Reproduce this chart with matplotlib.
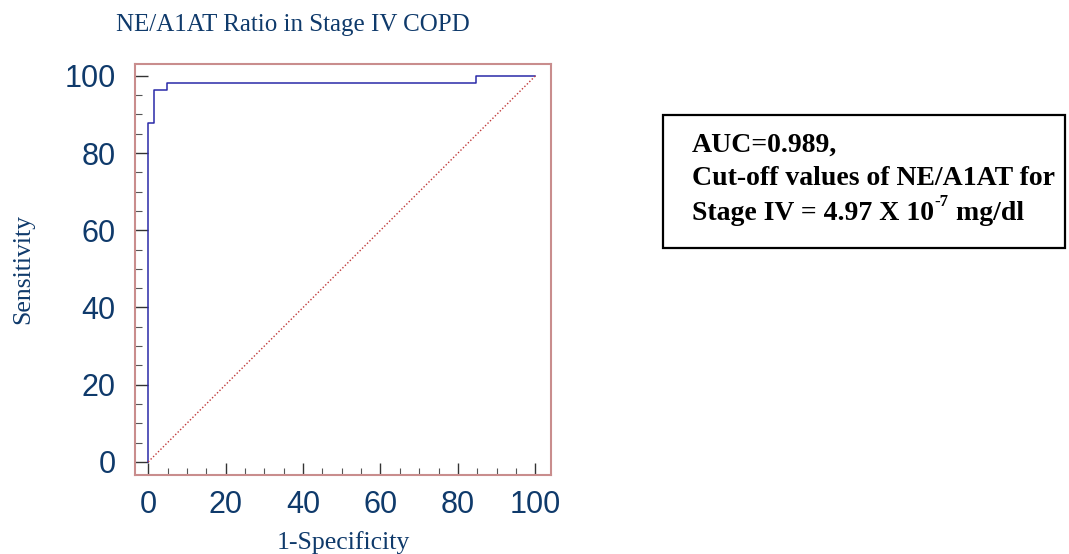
import numpy as np
import matplotlib.pyplot as plt
from matplotlib.ticker import MultipleLocator

# ROC step points (1-specificity, sensitivity) in %
fpr = [0, 0, 1.4, 1.4, 4.8, 4.8, 84.6, 84.6, 100]
sens = [0, 87.8, 87.8, 96.4, 96.4, 98.1, 98.1, 100, 100]
diag = [0, 100]

navy = '#0f3a6b'
frame_col = '#c98d8d'
serif = ['Liberation Serif', 'DejaVu Serif']

fig = plt.figure(figsize=(10.69, 5.54), dpi=100)
ax = fig.add_axes([0.1263, 0.1426, 0.389, 0.742])

ax.plot(fpr, sens, color='#2a2aa8', lw=1.1)
ax.plot(diag, diag, color='#c03a3a', lw=1.0, ls=(0, (1, 1.5)))

ax.set_xlim(-3.4, 104)
ax.set_ylim(-3.4, 103.1)
ax.xaxis.set_major_locator(MultipleLocator(20))
ax.xaxis.set_minor_locator(MultipleLocator(5))
ax.yaxis.set_major_locator(MultipleLocator(20))
ax.yaxis.set_minor_locator(MultipleLocator(5))

for s in ax.spines.values():
    s.set_color(frame_col)
    s.set_linewidth(1.5)

ax.tick_params(which='major', direction='in', length=9, width=1.0, color='#333333',
               labelsize=22, labelcolor=navy, top=False, right=False)
ax.tick_params(which='minor', direction='in', length=5, width=0.8, color='#555555',
               top=False, right=False)
ax.tick_params(axis='x', which='major', pad=11)
ax.tick_params(axis='y', which='major', pad=14)
for lab in ax.get_xticklabels() + ax.get_yticklabels():
    lab.set_family(['Liberation Sans', 'DejaVu Sans'])

ax.set_xlabel('1-Specificity', family=serif, fontsize=18.5, color=navy, labelpad=8)
ax.set_ylabel('Sensitivity', family=serif, fontsize=18.5, color=navy, labelpad=22)
fig.text(0.274, 0.955, 'NE/A1AT Ratio in Stage IV COPD', family=serif, fontsize=18,
         color=navy, ha='center', va='center')

# annotation box
box = plt.Rectangle((0.62, 0.552), 0.376, 0.240, transform=fig.transFigure,
                    fill=False, edgecolor='black', lw=1.6)
fig.add_artist(box)
x0 = 0.647
kw = dict(family=serif, fontsize=20, fontweight='bold', color='black',
          ha='left', va='baseline')
fig.text(x0, 0.7256, 'AUC=0.989,', **kw)
fig.text(x0, 0.666, 'Cut-off values of NE/A1AT for', **kw)
t1 = fig.text(x0, 0.603, 'Stage IV = 4.97 X 10', **kw)

# superscript and unit placed after the measured base text
r = fig.canvas.get_renderer()
x1 = fig.transFigure.inverted().transform(
    (t1.get_window_extent(r).x1, 0))[0]
sup_kw = dict(kw, fontsize=12)
t2 = fig.text(x1 + 0.001, 0.603 + 0.026, '-7', **sup_kw)
x2 = fig.transFigure.inverted().transform(
    (t2.get_window_extent(r).x1, 0))[0]
fig.text(x2, 0.603, ' mg/dl', **kw)

fig.savefig('out.png', dpi=100)
